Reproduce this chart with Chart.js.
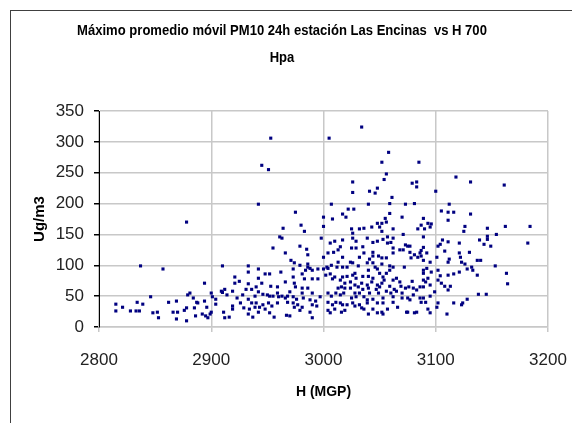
<!DOCTYPE html>
<html>
<head>
<meta charset="utf-8">
<script src="https://cdn.jsdelivr.net/npm/chart.js@4.4.1/dist/chart.umd.min.js"></script>
<style>
    body { margin: 0; background: #fff; }
    canvas { display: block; }
</style>
</head>
<body>
<canvas id="chart" width="572" height="423"></canvas>
<script>
const titulo = ['Máximo promedio móvil PM10 24h estación Las Encinas  vs H 700', 'Hpa']
const ejeX = 'H (MGP)'
const ejeY = 'Ug/m3'

const xTicks = [2800, 2900, 3000, 3100, 3200]
const yTicks = [0, 50, 100, 150, 200, 250, 300, 350]

// altura geopotencial 700 hPa (m)
const alturaH700 = [
    2815, 2815, 2821, 2828, 2833, 2836, 2834, 2839, 2837, 2846,
    2857, 2848, 2852, 2853, 2862, 2866, 2869, 2869, 2870, 2876,
    2878, 2878, 2879, 2881, 2878, 2884, 2885, 2886, 2887, 2888,
    2894, 2894, 2892, 2895, 2897, 2899, 2900, 2901, 2900, 2896,
    2904, 2904, 2910, 2909, 2910, 2912, 2914, 2911, 2916, 2912,
    2919, 2921, 2921, 2925, 2919, 2919, 2926, 2928, 2929, 2931,
    2933, 2933, 2933, 2933, 2933,
    2945, 2951, 2953, 2942, 2955, 2942, 2948, 2952, 2942, 2945,
    2953, 2959, 2936, 2940, 2942, 2946, 2950, 2952, 2955, 2959,
    2960, 2923, 2939, 2936, 2940, 2943, 2946, 2951, 2954, 2959,
    2934, 2939, 2942, 2948, 2952, 2956, 2937,
    2975, 2964, 2961, 2963, 2980, 2983, 2966, 2979, 2985, 2986,
    2998, 3000, 3000, 3007, 3005, 3034, 3058, 3052, 3056, 3054,
    3026, 3026, 3041, 3046, 3048, 3061, 3059, 3040, 3027, 3022,
    3017, 3020, 3008, 3073, 3070, 3071, 3055, 3052, 3056,
    3006, 3010, 3015, 3017, 3004, 3000, 3009, 3013, 2971, 2974,
    2979, 2973, 2986, 2986, 2984, 2988, 2990, 2995, 3000, 3003,
    3007, 3004, 3012, 3013, 3017, 2962, 2973, 2981, 2983, 2990,
    2995, 3002, 3006, 3008, 3010, 3015, 3017,
    2966, 2974, 2975, 2981, 2986, 2981, 2990, 3013, 3016, 3011,
    3015, 3018, 3004, 3007, 2997, 2970, 2968, 2963, 2966, 2973,
    2976, 2982, 2988, 2993, 2968, 2973, 2974, 2977, 2981, 2990,
    2994, 3004, 3008, 3011, 3015, 3017, 2979, 2988, 3004, 3006,
    3010, 3016, 2967, 2970, 2990,
    3048, 3059, 3025, 3026, 3032, 3036, 3043, 3050, 3052, 3062,
    3026, 3029, 3039, 3044, 3048, 3053, 3057, 3060, 3062, 3057,
    3073, 3025, 3029, 3035, 3036, 3044, 3049, 3052, 3062,
    3062, 3071, 3068, 3075, 3017, 3032, 3041, 3044, 3056, 3024,
    3021, 3026, 3031, 3039, 3044, 3046, 3052, 3059, 3062, 3072,
    3040, 3048, 3050, 3056, 3059, 3021, 3026, 3028, 3029,
    3035, 3040, 3044, 3053, 3054, 3062, 3065, 3068, 3019, 3024,
    3028, 3034, 3039, 3043, 3048, 3052, 3059, 3069, 3019, 3024,
    3031, 3035, 3040, 3047, 3050, 3056, 3063, 3065, 3070, 3073,
    3028, 3032, 3041, 3049, 3060, 3025, 3029, 3036, 3039, 3044,
    3053, 3062, 3070, 3021, 3026, 3032, 3039, 3048, 3053, 3062,
    3019, 3028, 3034, 3036, 3044, 3048, 3052, 3053, 3057, 3066,
    3074, 3040,
    3085, 3079, 3083, 3083, 3100, 3118, 3131, 3161, 3081, 3112,
    3105, 3111, 3116, 3111, 3131, 3089, 3084, 3087, 3090, 3093,
    3095, 3096, 3126, 3125, 3146, 3162, 3184, 3182, 3154, 3146,
    3146, 3139, 3143, 3149, 3121, 3130, 3137, 3140, 3153, 3163,
    3164, 3138, 3145, 3128, 3124, 3123, 3110,
    3077, 3089, 3089, 3102, 3104, 3106, 3111, 3108, 3121, 3122,
    3077, 3081, 3086, 3087, 3087, 3092, 3078, 3084, 3089, 3095,
    3101, 3111, 3112, 3123, 3126, 3128, 3132, 3133, 3137,
    3089, 3089, 3092, 3096, 3102, 3104, 3111, 3116, 3121, 3089,
    3091, 3093, 3079, 3102, 3105, 3108, 3113, 3111, 3076, 3080,
    3083, 3086, 3089, 3095, 3075, 3077, 3080, 3086, 3087, 3089,
    3091, 3095, 3099, 3101, 3102, 3116, 3075, 3081, 3083, 3093,
    3095
]

// máximo promedio móvil 24h PM10 (ug/m3)
const pm10Max = [
    37, 26, 32, 26, 26, 26, 40, 37, 99, 49,
    94, 23, 24, 15, 40, 24, 42, 13, 24, 27,
    170, 10, 52, 55, 31, 47, 31, 18, 40, 39,
    71, 42, 21, 18, 15, 21, 55, 49, 24, 32,
    45, 37, 99, 58, 56, 61, 52, 24, 16, 15,
    58, 71, 81, 74, 34, 29, 39, 52, 31, 61,
    99, 89, 70, 45, 21,
    262, 255, 306, 199, 128, 94, 86, 86, 79, 71,
    66, 65, 61, 65, 57, 53, 52, 50, 50, 55,
    49, 47, 50, 39, 39, 32, 36, 39, 34, 39,
    29, 32, 24, 29, 23, 16, 16,
    186, 160, 146, 144, 165, 155, 120, 131, 126, 117,
    144, 178, 163, 199, 306, 324, 283, 267, 248, 239,
    235, 218, 220, 217, 225, 210, 200, 199, 191, 191,
    183, 178, 175, 199, 178, 150, 176, 168, 170,
    136, 139, 130, 141, 120, 113, 121, 125, 108, 104,
    100, 94, 102, 97, 92, 95, 92, 94, 94, 97,
    100, 95, 97, 105, 97, 89, 81, 86, 78, 78,
    78, 84, 86, 78, 81, 76, 81,
    73, 71, 65, 63, 63, 55, 55, 63, 65, 55,
    52, 55, 55, 50, 49, 57, 50, 50, 47, 49,
    45, 47, 44, 42, 40, 39, 32, 36, 32, 36,
    34, 40, 36, 40, 39, 36, 27, 24, 27, 23,
    29, 24, 19, 18, 15,
    168, 184, 159, 152, 159, 160, 162, 162, 155, 159,
    144, 139, 144, 137, 139, 142, 146, 137, 144, 136,
    133, 128, 128, 130, 120, 121, 115, 112, 128,
    120, 125, 125, 131, 113, 113, 110, 115, 112, 105,
    97, 104, 99, 104, 104, 97, 102, 99, 97, 97,
    92, 94, 87, 87, 92, 82, 84, 87, 79,
    82, 82, 79, 81, 76, 76, 79, 73, 71, 73,
    68, 71, 68, 73, 68, 71, 66, 66, 63, 63,
    65, 61, 63, 61, 65, 58, 61, 58, 55, 63,
    55, 55, 55, 55, 55, 47, 49, 49, 44, 45,
    47, 49, 47, 36, 39, 36, 39, 39, 39, 40,
    27, 34, 31, 29, 29, 23, 24, 21, 29, 32,
    24, 21,
    267, 233, 235, 227, 220, 243, 235, 230, 200, 199,
    188, 186, 186, 173, 183, 176, 159, 165, 159, 168,
    162, 167, 163, 155, 160, 163, 163, 136, 150, 147,
    142, 141, 134, 131, 136, 121, 108, 108, 99, 87,
    70, 53, 53, 45, 39, 36, 21,
    131, 146, 129, 131, 134, 141, 138, 123, 120, 113,
    121, 117, 120, 124, 115, 120, 112, 113, 108, 105,
    113, 105, 110, 105, 102, 94, 97, 92, 84,
    92, 87, 95, 89, 92, 83, 84, 86, 89, 76,
    73, 79, 74, 76, 71, 66, 66, 60, 65, 63,
    60, 65, 65, 68, 47, 44, 52, 47, 40, 47,
    40, 50, 57, 32, 39, 39, 24, 23, 24, 29,
    23
]

const FONT = '"Liberation Sans", Arial, sans-serif'
const GRID = '#c8c8c8'

// fondo blanco, marco exterior y título en dos líneas (letra estrecha)
const marco = {
    id: 'marco',
    beforeDraw(chart) {
        const ctx = chart.ctx;
        ctx.save();
        ctx.fillStyle = '#fff';
        ctx.fillRect(0, 0, chart.width, chart.height);
        ctx.restore();
    },
    afterDraw(chart) {
        const ctx = chart.ctx;
        ctx.save();
        ctx.strokeStyle = '#404040';
        ctx.lineWidth = 1;
        ctx.strokeRect(10.5, 10.5, 700, 700);
        ctx.fillStyle = '#000';
        ctx.font = 'bold 15px ' + FONT;
        ctx.textAlign = 'center';
        ctx.textBaseline = 'middle';
        const sx = 0.87;
        ctx.scale(sx, 1);
        ctx.fillText(titulo[0], 282 / sx, 31);
        ctx.fillText(titulo[1], 282 / sx, 58);
        ctx.restore();
    }
}

new Chart(document.getElementById('chart'), {
    type: 'scatter',
    data: {
        datasets: [{
            data: alturaH700.map((h, i) => ({ x: h, y: pm10Max[i] })),
            pointStyle: 'rect',
            pointRadius: 2.2,
            pointHoverRadius: 2.2,
            backgroundColor: '#000080',
            borderWidth: 0
        }]
    },
    options: {
        responsive: false,
        animation: false,
        layout: {
            padding: { left: 14, right: 24, top: 111, bottom: 0 }
        },
        plugins: {
            legend: { display: false },
            tooltip: { enabled: false }
        },
        scales: {
            x: {
                type: 'linear',
                min: xTicks[0],
                max: xTicks[xTicks.length - 1],
                afterBuildTicks: (scale) => { scale.ticks = xTicks.map(v => ({ value: v })); },
                afterFit: (scale) => {
                    scale.height = 96;
                    scale.paddingLeft = 0;
                    scale.paddingRight = 0;
                },
                ticks: {
                    padding: 18,
                    color: '#222',
                    font: { family: FONT, size: 17 },
                    callback: (v) => String(v)
                },
                grid: { color: GRID, lineWidth: 1.5, tickLength: 5, tickColor: GRID },
                border: { color: GRID, width: 1.5 },
                title: {
                    display: true,
                    text: ejeX,
                    color: '#000',
                    font: { family: FONT, size: 14, weight: 'bold' },
                    padding: { top: 0, bottom: 22 }
                }
            },
            y: {
                min: yTicks[0],
                max: yTicks[yTicks.length - 1],
                afterBuildTicks: (scale) => { scale.ticks = yTicks.map(v => ({ value: v })); },
                afterFit: (scale) => { scale.width = 85; },
                ticks: {
                    padding: 10,
                    color: '#222',
                    font: { family: FONT, size: 17 },
                    callback: (v) => String(v)
                },
                grid: { color: GRID, lineWidth: 1.5, tickLength: 5, tickColor: '#000' },
                border: { color: '#000', width: 1 },
                title: {
                    display: true,
                    text: ejeY,
                    color: '#000',
                    font: { family: FONT, size: 15, weight: 'bold' },
                    padding: { top: 17, bottom: 0 }
                }
            }
        }
    },
    plugins: [marco]
});
</script>
</body>
</html>
